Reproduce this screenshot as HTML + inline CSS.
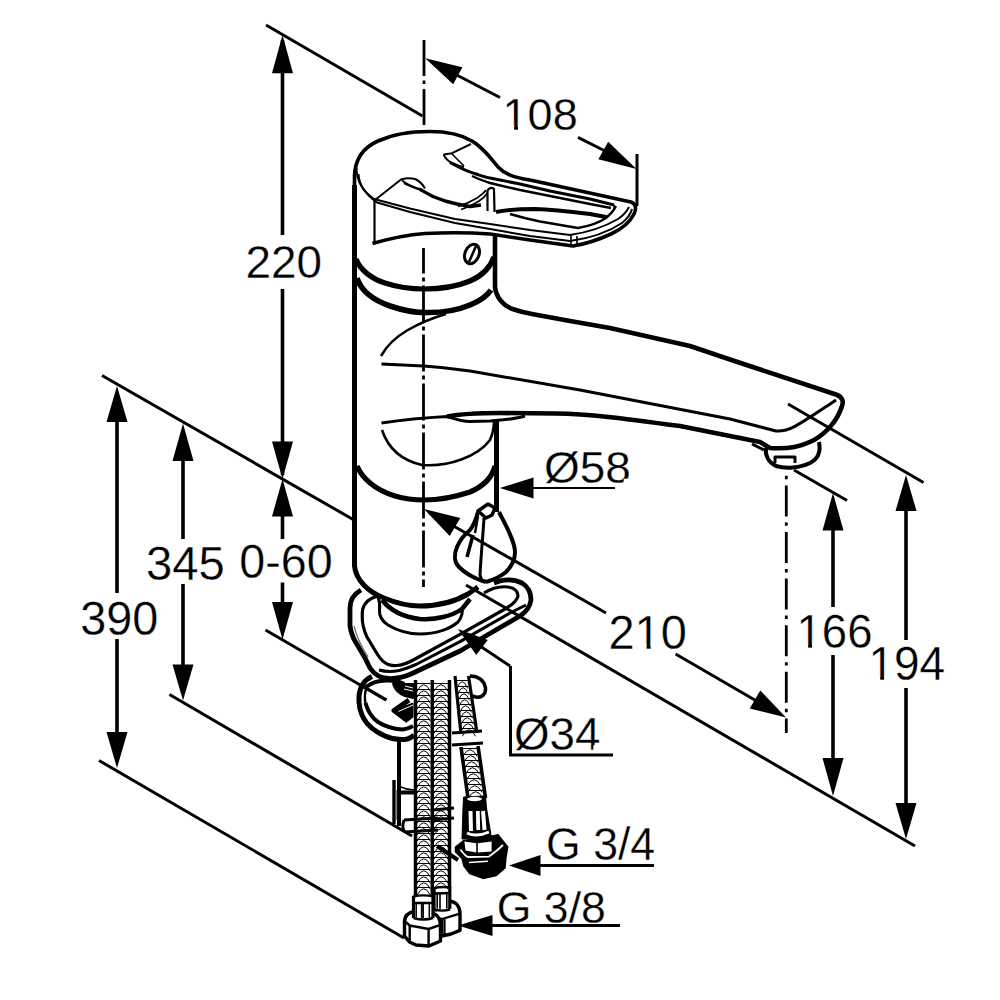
<!DOCTYPE html>
<html><head><meta charset="utf-8"><style>
html,body{margin:0;padding:0;background:#fff;width:1000px;height:1000px;overflow:hidden}
svg{position:absolute;left:0;top:0}
text{font-family:"Liberation Sans",sans-serif;font-size:46px;fill:#000;stroke:#fff;stroke-width:0.3px}
</style></head><body>
<svg width="1000" height="1000" viewBox="0 0 1000 1000">
<g stroke="#000" fill="none" stroke-linecap="butt" stroke-linejoin="round">
<line x1="282.5" y1="40" x2="282.5" y2="235" stroke-width="3.6"/>
<line x1="282.5" y1="289" x2="282.5" y2="475" stroke-width="3.6"/>
<polygon points="282.5,35.0 272.0,73.3 293.0,73.3" stroke="none" fill="#000"/>
<polygon points="282.5,479.0 293.0,441.5 272.0,441.5" stroke="none" fill="#000"/>
<text transform="matrix(0.9973,0,0,0.9969,245.41,277.8)">220</text>
<polygon points="282.5,479.0 272.0,516.5 293.0,516.5" stroke="none" fill="#000"/>
<line x1="282.5" y1="516" x2="282.5" y2="539" stroke-width="3.6"/>
<line x1="282.5" y1="582.5" x2="282.5" y2="603" stroke-width="3.6"/>
<polygon points="282.5,639.5 293.0,602.0 272.0,602.0" stroke="none" fill="#000"/>
<text transform="matrix(1.0148,0,0,1.05,239.27,578.3)">0-60</text>
<polygon points="183.0,423.5 172.5,461.0 193.5,461.0" stroke="none" fill="#000"/>
<line x1="183" y1="460" x2="183" y2="539" stroke-width="3.6"/>
<line x1="183" y1="584" x2="183" y2="665" stroke-width="3.6"/>
<polygon points="183.0,700.5 193.5,664.5 172.5,664.5" stroke="none" fill="#000"/>
<text transform="matrix(1.0274,0,0,1.0312,145.95,579.5)">345</text>
<polygon points="117.0,386.0 106.5,422.0 127.5,422.0" stroke="none" fill="#000"/>
<line x1="117" y1="421" x2="117" y2="593" stroke-width="3.6"/>
<line x1="117" y1="639" x2="117" y2="733" stroke-width="3.6"/>
<polygon points="117.0,768.0 127.5,732.0 106.5,732.0" stroke="none" fill="#000"/>
<text transform="matrix(1.0178,0,0,1.0375,80.16,635.0)">390</text>
<line x1="266" y1="25" x2="422.5" y2="116" stroke-width="3"/>
<line x1="102" y1="375.5" x2="354" y2="520" stroke-width="3"/>
<line x1="265.5" y1="630" x2="386" y2="700" stroke-width="3"/>
<line x1="169.5" y1="694.5" x2="412" y2="836" stroke-width="3"/>
<line x1="99" y1="760.5" x2="404" y2="938" stroke-width="3"/>
<line x1="466" y1="585" x2="915" y2="846" stroke-width="3"/>
<line x1="788" y1="404" x2="923.5" y2="482.5" stroke-width="3"/>
<line x1="752" y1="444" x2="764" y2="450" stroke-width="3"/>
<line x1="794" y1="470" x2="847" y2="500.5" stroke-width="3"/>
<polygon points="425.2,58.3 453.2,84.3 462.4,67.3" stroke="none" fill="#000"/>
<line x1="450" y1="71.5" x2="500" y2="97.5" stroke-width="3"/>
<line x1="578" y1="137.3" x2="606" y2="151.5" stroke-width="3"/>
<polygon points="636.5,169.0 608.2,141.8 598.4,159.2" stroke="none" fill="#000"/>
<text transform="matrix(0.9789,0,0,0.9844,502.58,129.5)">108</text>
<g transform="matrix(0.9789,0,0,0.9844,502.58,129.5)" fill="#fff" stroke="none"><rect x="2.90" y="-4.4" width="8.9" height="5.4"/><rect x="15.75" y="-4.4" width="8.9" height="5.4"/></g>
<line x1="637" y1="154" x2="637" y2="206" stroke-width="3"/>
<line x1="424" y1="40" x2="424" y2="125.5" stroke-width="2.8" stroke-dasharray="36 4.5 3.5 5"/>
<polygon points="833.0,493.0 822.5,530.5 843.5,530.5" stroke="none" fill="#000"/>
<line x1="833" y1="530" x2="833" y2="607" stroke-width="3.6"/>
<line x1="833" y1="655" x2="833" y2="759" stroke-width="3.6"/>
<polygon points="833.0,796.0 843.5,758.0 822.5,758.0" stroke="none" fill="#000"/>
<text transform="matrix(0.9915,0,0,1.05,796.43,648.2)">166</text>
<g transform="matrix(0.9915,0,0,1.05,796.43,648.2)" fill="#fff" stroke="none"><rect x="2.90" y="-4.4" width="8.9" height="5.4"/><rect x="15.75" y="-4.4" width="8.9" height="5.4"/></g>
<polygon points="906.0,475.0 895.5,511.0 916.5,511.0" stroke="none" fill="#000"/>
<line x1="906" y1="510" x2="906" y2="640" stroke-width="3.6"/>
<line x1="906" y1="688" x2="906" y2="804" stroke-width="3.6"/>
<polygon points="906.0,839.0 916.5,803.0 895.5,803.0" stroke="none" fill="#000"/>
<text transform="matrix(1.0,0,0,1.025,868.4,680.2)">194</text>
<g transform="matrix(1.0,0,0,1.025,868.4,680.2)" fill="#fff" stroke="none"><rect x="2.90" y="-4.4" width="8.9" height="5.4"/><rect x="15.75" y="-4.4" width="8.9" height="5.4"/></g>
<polygon points="424.0,509.0 449.7,536.1 460.3,517.9" stroke="none" fill="#000"/>
<line x1="450" y1="524" x2="606" y2="613" stroke-width="3"/>
<line x1="675.6" y1="654" x2="760" y2="703" stroke-width="3"/>
<polygon points="786.0,717.5 760.3,690.4 749.7,708.6" stroke="none" fill="#000"/>
<text transform="matrix(1.0205,0,0,1.0625,608.46,649.0)">210</text>
<g transform="matrix(1.0205,0,0,1.0625,608.46,649.0)" fill="#fff" stroke="none"><rect x="28.48" y="-4.4" width="8.9" height="5.4"/><rect x="41.33" y="-4.4" width="8.9" height="5.4"/></g>
<line x1="786.3" y1="475.8" x2="786.3" y2="733" stroke-width="2.8" stroke-dasharray="31 6 3.4 6.2" stroke-dashoffset="37"/>
<polygon points="500.0,488.0 533.5,498.5 533.5,477.5" stroke="none" fill="#000"/>
<line x1="533" y1="488" x2="615" y2="488" stroke-width="2"/>
<text transform="matrix(1.0,0,0,0.9829,544.0,483.02)">&#216;58</text>
<g transform="matrix(1.0,0,0,0.9829,544.0,483.02)" fill="#fff" stroke="none"><rect x="79.64" y="-4.4" width="8.9" height="5.4"/><rect x="92.49" y="-4.4" width="8.9" height="5.4"/></g>
<polygon points="458.0,629.0 476.2,655.0 487.8,640.0" stroke="none" fill="#000"/>
<line x1="480" y1="646" x2="510" y2="666" stroke-width="3"/>
<line x1="510.5" y1="666" x2="510.5" y2="755" stroke-width="3"/>
<line x1="509" y1="755" x2="613" y2="755" stroke-width="3.2"/>
<text transform="matrix(0.9952,0,0,0.9886,514.01,749.61)">&#216;34</text>
<g transform="matrix(0.9952,0,0,0.9886,514.01,749.61)" fill="#fff" stroke="none"><rect x="79.64" y="-4.4" width="8.9" height="5.4"/><rect x="92.49" y="-4.4" width="8.9" height="5.4"/></g>
<polygon points="509.0,865.5 540.5,876.0 540.5,855.0" stroke="none" fill="#000"/>
<line x1="540" y1="865.5" x2="654" y2="865.5" stroke-width="3"/>
<text transform="matrix(0.9702,0,0,1.0118,546.06,860.0)">G 3/4</text>
<polygon points="458.0,925.5 492.5,936.0 492.5,915.0" stroke="none" fill="#000"/>
<line x1="492" y1="925.5" x2="620" y2="925.5" stroke-width="3"/>
<text transform="matrix(0.9693,0,0,0.9735,496.81,922.5)">G 3/8</text>
<!-- ===== BODY ===== -->
<path d="M354.5,185 L354.5,566 C356,580 368,592 384,598 C396,603 408,606 420,606 C438,606 456,601 468,594 L478,587" stroke-width="5"/>
<path d="M495,236 L495,287 C496,297 503,306 514,309.5 C520,311.5 526,313 532,314 L570,321 L610,328 L650,337 L690,346 L730,359.5 L836,394.5 C842,396.5 844,401 842,406 C838,419 828,432 814,440 C800,447 790,449 770,448 L760,442 L680,426 C620,418 590,414 555,413.5 L500,413 C480,413 460,414 447,416.5" stroke-width="4.6"/>
<path d="M496.5,421 L496.5,512" stroke-width="5"/>
<!-- ring bands -->
<path d="M356,259 C360,270 372,279 385,283 C400,288 412,289 424,289 C440,289 458,286 470,281 C482,276 490,268 494,257" stroke-width="5.2"/>
<path d="M357,278 C361,291 373,300 390,306 C402,310 414,312.5 424,312.5 C440,313 458,310 470,305 C480,301 487,296 491,290" stroke-width="5.6"/>
<!-- spout lines -->
<path d="M381,356 C386,347 396,337 407,330.5 C420,323 432,318 446,314" stroke-width="2.6"/>
<path d="M381.5,364 L423.5,366 C440,367 455,369 470,371 L580,390 L730,419 L776,431 C790,432 800,424 836,400" stroke-width="3"/>
<path d="M381.5,423 C395,421 420,418 447,416.5 C455,419 460,421.5 470,421.5 L490,421 C505,420 515,419 525,416" stroke-width="3"/>
<path d="M382,430 C388,448 400,460 422,465 C450,467 478,456 490,440 C493,433 494,428 494,422" stroke-width="2.6"/>
<path d="M357,466 C362,478 375,490 395,496 C405,499 414,500 424,500 C440,500 458,496 470,492 C484,486 492,478 495,466" stroke-width="5.2"/>
<!-- aerator -->
<path d="M766,448 C765,455 768,462 776,466 C786,469 800,468 810,463 C818,459 821,452 819,442" stroke-width="4"/>
<path d="M775,463 L775,457 L795,457 L795,463" stroke-width="3"/>
<!-- centerline -->
<line x1="423.5" y1="248" x2="423.5" y2="587" stroke-width="2.8" stroke-dasharray="37 4 4 4" stroke-dashoffset="11.6"/>
<!-- ===== CAP & LEVER ===== -->
<path d="M354.5,188 L354.5,176 C355,160 362,148 378,141 C392,134.5 410,131.5 430,131.5 C448,131.5 462,135 472,141 C482,147 490,157 498,167 C504,173.5 512,177 530,180 L631,202 C637,204 636,210 634,214 C630,222 622,229 611,234 C598,240 585,244 573,246 L530,240 L490,234 C470,232.5 445,232.5 425,233.5 C405,235 388,239 372.5,243.5" stroke-width="3.6"/>
<!-- chamfer lines -->
<path d="M356.5,168 C356.5,180 361,190 374,199 L410,208.5 L455,219 L490,224 L530,230 L570,235 C590,232 606,226 618,219 C624,215 627,211 629,207" stroke-width="2"/>
<path d="M358.5,174 C359,184 365,194 377,202.5 L410,212 L455,223 L490,229 L530,236 L570,241 C592,238 610,231 622,223 C628,218 631,213 632,209" stroke-width="2"/>
<path d="M571,235 L571,244 M577,236 L577,245" stroke-width="1.6"/>
<!-- front face of lever -->
<path d="M374.5,201 L374.5,243.5" stroke-width="2.2"/>
<!-- left leaf -->
<path d="M375,200 L401,179.5 C406,178 411,178 415,179 C420,181 423,185 425,188.5" stroke-width="2"/>
<path d="M402,180.5 C408,185 414,188 422,189.5" stroke-width="2"/>
<path d="M404,183 C410,186 416,188.5 422,190" stroke-width="2.2"/>
<path d="M420,189.5 C425,192 429,194.5 433,196.5 C441,200 449,202.5 457,204 L470,206.5 L481,205" stroke-width="3.4"/>
<!-- right leaf -->
<path d="M443.6,154.4 L452,153.2 L471,144" stroke-width="2"/>
<path d="M443.6,154.4 C445,158 448,161 452,163 C456,165 460,166.5 464,167" stroke-width="2"/>
<path d="M452,154 C455,157 459,161 464,166" stroke-width="1.6"/>
<!-- top bar inner lines -->
<path d="M450,162.5 C458,167 466,171 476,174 C482,176 486,177.5 490,178 L520,184 L550,191 L590,199 L614,205" stroke-width="3"/>
<path d="M472,176 C478,179 484,181 490,183 L520,190 L550,196 L590,204 L611,208" stroke-width="2.4"/>
<!-- slot -->
<path d="M614,205 C616,209 612,213 606,217" stroke-width="2"/>
<path d="M496,212 C505,210 520,209 535,209 C550,209.5 565,211 590,214 L606,217" stroke-width="4"/>
<path d="M510,214 C520,217 528,219 540,221.5 L578,228 C590,226 600,222 606,218 C611,214 614,210 616,206" stroke-width="2.4"/>
<!-- inner arc & strut -->
<path d="M458,206.5 C466,204 472,201 477,198 C481,195 484,193 486,190" stroke-width="1.8"/>
<path d="M461,209.5 C469,207 474,204 479,201 C483,198.5 485.5,196 487.5,193" stroke-width="1.8"/>
<path d="M487.5,211 L487.5,191 C488.5,188 492,187 494,189 L494.5,212" stroke-width="2.2"/>
<!-- mark -->
<ellipse cx="472" cy="254" rx="7" ry="10" transform="rotate(22 472 254)" stroke-width="3"/>
<path d="M469,262 L476,246" stroke-width="2.5"/>
<!-- ===== BASE PLATE ===== -->
<path d="M361,590 C354,594 350,600 350,608 L350,626 C351,632 352,636 355,641 L364.5,657 L370,668 C374,674 380,678 388,678.5 C396,679 404,677 411,674 L460,651 L520,616 C526,612 530,607 531,600 C531,592 527,586 522,583 C516,580 508,579 500,581 L494,583" stroke-width="4.8"/>
<path d="M378,596 C370,598 364,603 362.5,610 C362,616 362,620 363,625 C364,630 365,633 367,637 L376,652 C379,657 381,660 384,662 C388,665 392,666 397,665.5 C404,665 410,662 416,658.5 L460,634.4 L505,609 C512,605 517,601 518,596 C518,591 514,588 508,587 C500,586 492,588 484,593" stroke-width="3.2"/>
<path d="M379,670 C386,672 392,672 399,670.5 C405,669 410,667 416,664.5 L460,641.6 L510,613 L526,605" stroke-width="3"/>
<path d="M354,626 C357,638 362,648 368,657" stroke-width="1.4" stroke="#777"/>
<!-- neck below body -->
<path d="M378,597 C380,602 380,606 379.5,610 C379,616 382,621 388,625 C398,631 410,634 420,634 C436,634 450,629 458,622 C462,617 463,612 462,607" stroke-width="3"/>
<path d="M382,600 C390,610 402,617 420,619 C436,620 452,616 462,609 L470,599" stroke-width="4.5"/>
<!-- drain lever teardrop -->
<path d="M478,512 C476,519 474,525 470,530 C465,534 460,540 457,547 C454,554 454,562 459,567 C464,572 472,577 480,580 L486,582" stroke-width="4"/>
<path d="M499,512 C502,518 506,525 509,532 C512,539 515,545 515,552 C515,560 512,566 506,572 C500,577 493,580 486,582" stroke-width="4"/>
<path d="M478,511 L488,504 L495,508 L492,515 L486,518 Z" stroke-width="3.5" fill="#fff"/>
<path d="M484,518 C483,535 481,555 480,575 L482,581" stroke-width="3"/>
<path d="M478,516 L475,533" stroke-width="2.5"/>
<path d="M473,535 L467,557" stroke-width="3.5"/>
<!-- O34 leader -->

<!-- ===== HORSESHOE FIXING ===== -->
<path d="M372,676.5 C364,680 360,686 359,696 C358.5,704 360,712 364,719 C368,726 376,732 385,736 C392,739 400,740.5 407.5,739 C410,738.5 412,737 414,735" stroke-width="5"/>
<path d="M365.5,703 C368,712 372,718 378,722 C386,727 394,729 402,729.5 C406,729.5 409,728 413,726" stroke-width="4"/>
<path d="M367,686 C364.5,692 364.5,698 365.5,704" stroke-width="2.4"/>
<path d="M366,687 C372,682 380,680 389,680.5 C396,681 401,682 404,684" stroke-width="4"/>
<path d="M393,684 C395,690 399,694 405,696 L413,698 L413,684 Z" fill="#000" stroke-width="2"/>
<path d="M409,700 L394,710.5 L408,721" stroke-width="5"/>
<path d="M394,710.5 L413,703 L413,717 L408,721 Z" fill="#000" stroke-width="1"/>
<path d="M398.5,711.5 L413,705" stroke="#fff" stroke-width="1"/>
<path d="M405,686 L413,688 M404,689 L413,691" stroke="#fff" stroke-width="1"/>
<path d="M368,720 C374,727 382,731 392,734" stroke="#fff" stroke-width="0.8"/>
<path d="M366,688 L386.5,700" stroke-width="3"/>
<!-- stud -->
<path d="M399,738 L399,826" stroke-width="4"/>
<path d="M394,780 L394,824" stroke-width="3.4"/>
<path d="M396.5,790 L396.5,820" stroke-width="1.2" stroke="#888"/>
<path d="M400,792.5 L414,792.5" stroke-width="4"/>
<path d="M401,787 C405,789 409,790 414,790" stroke-width="1.6"/>
<!-- small loop right -->
<path d="M470,676 C478,676 484,680 485.5,688 C486,694 482,698 476,697 L472,696" stroke-width="3.5"/>
<!-- hose borders -->
<path d="M415.5,680 L415.5,897 M432.3,680 L432.3,897 M449.5,680 L449.5,888" stroke-width="3.5"/>
<path d="M455,676 L461,734 M468.5,676 L477,733" stroke-width="3.2"/>
<path d="M461,747 L468,798 M478,746 L485.5,798" stroke-width="3.6"/>
<!-- right hose clamp -->
<path d="M452,733 L482,731 M452,745 L483,743" stroke-width="3"/>
<!-- lower clamp -->
<path d="M404,820 L438,818 M405,832 L438,830 M404,820 C402,826 403,830 405,832" stroke-width="3"/>
<path d="M433,810 L454,808 M433,820 L454,818" stroke-width="3"/>
<!-- G3/4 ferrule + nut -->
<path d="M463.5,797 L485.5,796 L486.5,808 L489.5,826 L491.5,838 L462,839 L463,808 Z" fill="#000" stroke-width="1"/>
<ellipse cx="474.5" cy="799" rx="7.5" ry="2.2" fill="#fff" stroke="none"/>
<path d="M470.5,811 L471,831 M477.7,811 L478.2,830 M483,811 L484.5,830" stroke="#fff" stroke-width="4"/>
<path d="M474.7,811 L475,831" stroke="#000" stroke-width="2.5"/>
<path d="M467,833 C472,835.5 480,836 489,832" stroke="#fff" stroke-width="3"/>
<path d="M455.5,847 L464,840.4 L490.6,836.5 L498,834.7 L507.7,847 L505.8,858.4 L505,868 L496.3,875.5 L483,878.4 L469.7,873.6 L464,866 L462,858.4 L455.5,851.7 Z" fill="#000" stroke-width="1.5"/>
<path d="M464.4,841.6 L476.2,843.2 L476.2,852.6 L465.5,850.6 Z M477.8,843.2 L491.6,841.4 L491.6,851.4 L477.8,852.6 Z" fill="#fff" stroke="none"/>
<path d="M460.5,849.5 C463,853 465.5,856.5 468,857 L489,856.6 C494,853 499,849 503,845" stroke="#fff" stroke-width="1.8"/>
<path d="M469,862.5 L488,861.3" stroke="#fff" stroke-width="1.6"/>
<path d="M437,846 L458,860" stroke-width="4"/>
<!-- G3/8 ferrules and nuts -->
<!-- right nut (behind) -->
<path d="M435,911.5 C436,907 440,903 445,901.7 C449,900.8 454,901 457,904.5 C459,907 460,910 460,913.6 L460,930.4 L451,934 L442,936" stroke-width="3.4" fill="#fff"/>
<path d="M434,916.4 L442,919 L460,913.6 M442,919 L442,936 M444.5,918.5 L444.5,934.5" stroke-width="2.2"/>
<!-- right ferrule -->
<path d="M434,888 L449.8,887 L449.8,909 C445,911 440,911 434,910 Z" fill="#fff" stroke="none"/>
<path d="M434,888 L434,911 M449.8,887 L449.8,909" stroke-width="3.2"/>
<path d="M433,888.4 C439,887 445,886.6 451,887.5 M434,893.5 L450,893 M434,909.5 C440,911 445,911 450,909.5" stroke-width="2.4"/>
<path d="M437.2,894 L437.2,908.5 M440,894 L440,909 M446.8,894 L446.8,908.5" stroke-width="1.6"/>
<!-- left nut -->
<path d="M404.5,921 C405,915.5 409,912.5 414,911.5 L433,913 C437,914.5 440,918 440.5,924.8 L440.5,941 L429,946 L416,945 L409.5,942 L404.5,936 Z" stroke-width="3.4" fill="#fff"/>
<path d="M404.5,921 L409.7,925.5 L428.6,929 L440.5,924.8 M409.7,925.5 L409.7,942 M428.6,929 L428.6,946" stroke-width="2.4"/>
<!-- left ferrule -->
<path d="M413.5,896 L433,896 L433,918 C427,920 420,920 413.5,918 Z" fill="#fff" stroke="none"/>
<path d="M413.5,896 L413.5,918 M433,896 L433,918" stroke-width="3.2"/>
<path d="M413,896.5 C420,895 427,895 434,896.5 M413.5,903 L433,903 M413.5,918 C420,920 427,920 433,918" stroke-width="2.4"/>
<path d="M416.2,903.5 L416.2,917.5 M421.6,903.5 L421.6,918 M423.2,903.5 L423.2,918 M429.3,903.5 L429.3,917.5" stroke-width="1.5"/>
<path d="M417.0,683.5 L430.5,683.5 M417.0,691.3 Q423.8,678.1 430.5,691.3 M417.0,689.5 L430.5,689.5 M417.0,697.3 Q423.8,684.1 430.5,697.3 M417.0,695.5 L430.5,695.5 M417.0,703.3 Q423.8,690.1 430.5,703.3 M417.0,701.5 L430.5,701.5 M417.0,709.3 Q423.8,696.1 430.5,709.3 M417.0,707.5 L430.5,707.5 M417.0,715.3 Q423.8,702.1 430.5,715.3 M417.0,713.5 L430.5,713.5 M417.0,721.3 Q423.8,708.1 430.5,721.3 M417.0,719.5 L430.5,719.5 M417.0,727.3 Q423.8,714.1 430.5,727.3 M417.0,725.5 L430.5,725.5 M417.0,733.3 Q423.8,720.1 430.5,733.3 M417.0,731.5 L430.5,731.5 M417.0,739.3 Q423.8,726.1 430.5,739.3 M417.0,737.5 L430.5,737.5 M417.0,745.3 Q423.8,732.1 430.5,745.3 M417.0,743.5 L430.5,743.5 M417.0,751.3 Q423.8,738.1 430.5,751.3 M417.0,749.5 L430.5,749.5 M417.0,757.3 Q423.8,744.1 430.5,757.3 M417.0,755.5 L430.5,755.5 M417.0,763.3 Q423.8,750.1 430.5,763.3 M417.0,761.5 L430.5,761.5 M417.0,769.3 Q423.8,756.1 430.5,769.3 M417.0,767.5 L430.5,767.5 M417.0,775.3 Q423.8,762.1 430.5,775.3 M417.0,773.5 L430.5,773.5 M417.0,781.3 Q423.8,768.1 430.5,781.3 M417.0,779.5 L430.5,779.5 M417.0,787.3 Q423.8,774.1 430.5,787.3 M417.0,785.5 L430.5,785.5 M417.0,793.3 Q423.8,780.1 430.5,793.3 M417.0,791.5 L430.5,791.5 M417.0,799.3 Q423.8,786.1 430.5,799.3 M417.0,797.5 L430.5,797.5 M417.0,805.3 Q423.8,792.1 430.5,805.3 M417.0,803.5 L430.5,803.5 M417.0,811.3 Q423.8,798.1 430.5,811.3 M417.0,809.5 L430.5,809.5 M417.0,817.3 Q423.8,804.1 430.5,817.3 M417.0,815.5 L430.5,815.5 M417.0,823.3 Q423.8,810.1 430.5,823.3 M417.0,821.5 L430.5,821.5 M417.0,829.3 Q423.8,816.1 430.5,829.3 M417.0,827.5 L430.5,827.5 M417.0,835.3 Q423.8,822.1 430.5,835.3 M417.0,833.5 L430.5,833.5 M417.0,841.3 Q423.8,828.1 430.5,841.3 M417.0,839.5 L430.5,839.5 M417.0,847.3 Q423.8,834.1 430.5,847.3 M417.0,845.5 L430.5,845.5 M417.0,853.3 Q423.8,840.1 430.5,853.3 M417.0,851.5 L430.5,851.5 M417.0,859.3 Q423.8,846.1 430.5,859.3 M417.0,857.5 L430.5,857.5 M417.0,865.3 Q423.8,852.1 430.5,865.3 M417.0,863.5 L430.5,863.5 M417.0,871.3 Q423.8,858.1 430.5,871.3 M417.0,869.5 L430.5,869.5 M417.0,877.3 Q423.8,864.1 430.5,877.3 M417.0,875.5 L430.5,875.5 M417.0,883.3 Q423.8,870.1 430.5,883.3 M417.0,881.5 L430.5,881.5 M417.0,889.3 Q423.8,876.1 430.5,889.3 M417.0,887.5 L430.5,887.5 M417.0,895.3 Q423.8,882.1 430.5,895.3" stroke-width="1" stroke="#000"/>
<path d="M434.0,683.5 L448.0,683.5 M434.0,691.3 Q441.0,678.1 448.0,691.3 M434.0,689.5 L448.0,689.5 M434.0,697.3 Q441.0,684.1 448.0,697.3 M434.0,695.5 L448.0,695.5 M434.0,703.3 Q441.0,690.1 448.0,703.3 M434.0,701.5 L448.0,701.5 M434.0,709.3 Q441.0,696.1 448.0,709.3 M434.0,707.5 L448.0,707.5 M434.0,715.3 Q441.0,702.1 448.0,715.3 M434.0,713.5 L448.0,713.5 M434.0,721.3 Q441.0,708.1 448.0,721.3 M434.0,719.5 L448.0,719.5 M434.0,727.3 Q441.0,714.1 448.0,727.3 M434.0,725.5 L448.0,725.5 M434.0,733.3 Q441.0,720.1 448.0,733.3 M434.0,731.5 L448.0,731.5 M434.0,739.3 Q441.0,726.1 448.0,739.3 M434.0,737.5 L448.0,737.5 M434.0,745.3 Q441.0,732.1 448.0,745.3 M434.0,743.5 L448.0,743.5 M434.0,751.3 Q441.0,738.1 448.0,751.3 M434.0,749.5 L448.0,749.5 M434.0,757.3 Q441.0,744.1 448.0,757.3 M434.0,755.5 L448.0,755.5 M434.0,763.3 Q441.0,750.1 448.0,763.3 M434.0,761.5 L448.0,761.5 M434.0,769.3 Q441.0,756.1 448.0,769.3 M434.0,767.5 L448.0,767.5 M434.0,775.3 Q441.0,762.1 448.0,775.3 M434.0,773.5 L448.0,773.5 M434.0,781.3 Q441.0,768.1 448.0,781.3 M434.0,779.5 L448.0,779.5 M434.0,787.3 Q441.0,774.1 448.0,787.3 M434.0,785.5 L448.0,785.5 M434.0,793.3 Q441.0,780.1 448.0,793.3 M434.0,791.5 L448.0,791.5 M434.0,799.3 Q441.0,786.1 448.0,799.3 M434.0,797.5 L448.0,797.5 M434.0,805.3 Q441.0,792.1 448.0,805.3 M434.0,803.5 L448.0,803.5 M434.0,811.3 Q441.0,798.1 448.0,811.3 M434.0,809.5 L448.0,809.5 M434.0,817.3 Q441.0,804.1 448.0,817.3 M434.0,815.5 L448.0,815.5 M434.0,823.3 Q441.0,810.1 448.0,823.3 M434.0,821.5 L448.0,821.5 M434.0,829.3 Q441.0,816.1 448.0,829.3 M434.0,827.5 L448.0,827.5 M434.0,835.3 Q441.0,822.1 448.0,835.3 M434.0,833.5 L448.0,833.5 M434.0,841.3 Q441.0,828.1 448.0,841.3 M434.0,839.5 L448.0,839.5 M434.0,847.3 Q441.0,834.1 448.0,847.3 M434.0,845.5 L448.0,845.5 M434.0,853.3 Q441.0,840.1 448.0,853.3 M434.0,851.5 L448.0,851.5 M434.0,859.3 Q441.0,846.1 448.0,859.3 M434.0,857.5 L448.0,857.5 M434.0,865.3 Q441.0,852.1 448.0,865.3 M434.0,863.5 L448.0,863.5 M434.0,871.3 Q441.0,858.1 448.0,871.3 M434.0,869.5 L448.0,869.5 M434.0,877.3 Q441.0,864.1 448.0,877.3 M434.0,875.5 L448.0,875.5 M434.0,883.3 Q441.0,870.1 448.0,883.3 M434.0,881.5 L448.0,881.5 M434.0,889.3 Q441.0,876.1 448.0,889.3" stroke-width="1" stroke="#000"/>
<path d="M457.0,680.5 L467.5,680.5 M457.0,688.3 Q462.2,675.1 467.5,688.3 M457.7,686.5 L468.5,686.5 M457.7,694.3 Q463.1,681.1 468.5,694.3 M458.3,692.5 L469.5,692.5 M458.3,700.3 Q463.9,687.1 469.5,700.3 M459.0,698.5 L470.5,698.5 M459.0,706.3 Q464.7,693.1 470.5,706.3 M459.6,704.5 L471.5,704.5 M459.6,712.3 Q465.6,699.1 471.5,712.3 M460.3,710.5 L472.5,710.5 M460.3,718.3 Q466.4,705.1 472.5,718.3 M460.9,716.5 L473.6,716.5 M460.9,724.3 Q467.2,711.1 473.6,724.3 M461.6,722.5 L474.6,722.5 M461.6,730.3 Q468.1,717.1 474.6,730.3 M462.2,728.5 L475.6,728.5 M462.2,736.3 Q468.9,723.1 475.6,736.3" stroke-width="1" stroke="#000"/>
<path d="M463.0,748.5 L477.0,748.5 M463.0,756.3 Q470.0,743.1 477.0,756.3 M463.7,754.5 L477.9,754.5 M463.7,762.3 Q470.8,749.1 477.9,762.3 M464.5,760.5 L478.7,760.5 M464.5,768.3 Q471.6,755.1 478.7,768.3 M465.2,766.5 L479.6,766.5 M465.2,774.3 Q472.4,761.1 479.6,774.3 M466.0,772.5 L480.5,772.5 M466.0,780.3 Q473.2,767.1 480.5,780.3 M466.7,778.5 L481.3,778.5 M466.7,786.3 Q474.0,773.1 481.3,786.3 M467.5,784.5 L482.2,784.5 M467.5,792.3 Q474.8,779.1 482.2,792.3 M468.2,790.5 L483.1,790.5 M468.2,798.3 Q475.6,785.1 483.1,798.3" stroke-width="1" stroke="#000"/>
</g>
</svg>
</body></html>
